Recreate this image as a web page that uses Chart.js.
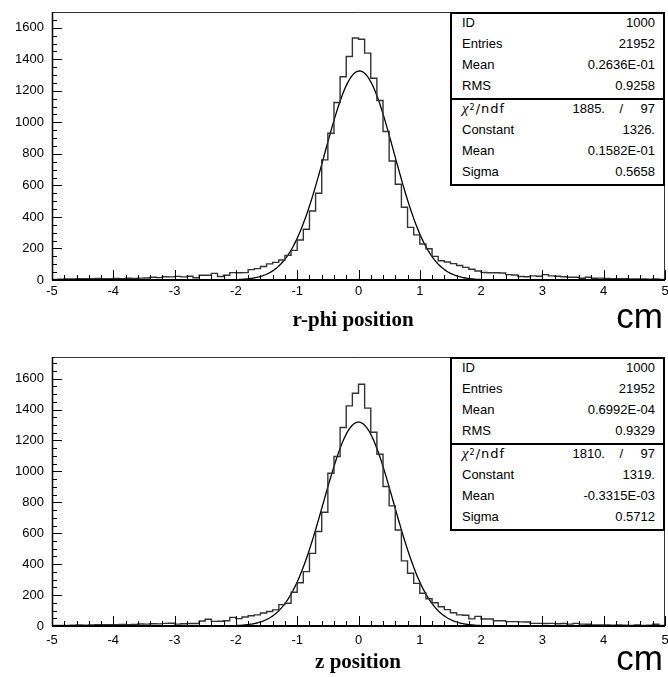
<!DOCTYPE html>
<html lang="en">

<head>
    <meta charset="UTF-8">
    <title>Position residuals</title>
    <style>
        body {
            margin: 0;
            width: 668px;
            height: 677px;
            position: relative;
            overflow: hidden;
            background: #fff;
            font-family: "Liberation Sans", Arial, Helvetica, sans-serif;
        }

        canvas {
            position: absolute;
            left: 0;
        }

        #chartRphi {
            top: 0;
        }

        #chartZ {
            top: 338px;
        }

        .stats {
            position: absolute;
            left: 450px;
            width: 215px;
            box-sizing: border-box;
            border: 2px solid #000;
            background: #fff;
            font-size: 13px;
            color: #000;
        }

        .stats .sec+.sec {
            border-top: 2px solid #000;
        }

        .row {
            position: relative;
            height: 21px;
            line-height: 21px;
        }

        .row span {
            position: absolute;
            top: -2px;
        }

        .row .lab {
            left: 10px;
        }

        .row .val {
            right: 8px;
        }

        .chi {
            font-family: "DejaVu Sans", sans-serif;
            letter-spacing: 1px;
        }

        .chi i {
            font-family: "Liberation Serif", serif;
            font-size: 15px;
        }

        .chi sup {
            font-size: 8px;
            position: relative;
            top: -1px;
            vertical-align: top;
        }

        .title {
            position: absolute;
            font-family: "Liberation Serif", "Times New Roman", serif;
            font-weight: bold;
            font-size: 21px;
            line-height: 21px;
            white-space: nowrap;
            transform: translateX(-50%);
        }

        .unit {
            position: absolute;
            right: 5px;
            font-size: 35px;
            line-height: 35px;
        }
    </style>
    <script src="https://cdn.jsdelivr.net/npm/chart.js"></script>
</head>

<body>
    <canvas id="chartRphi" width="668" height="338"></canvas>
    <canvas id="chartZ" width="668" height="339"></canvas>

    <div class="stats" style="top: 12px;">
        <div class="sec">
            <div class="row"><span class="lab">ID</span><span class="val">1000</span></div>
            <div class="row"><span class="lab">Entries</span><span class="val">21952</span></div>
            <div class="row"><span class="lab">Mean</span><span class="val">0.2636E-01</span></div>
            <div class="row"><span class="lab">RMS</span><span class="val">0.9258</span></div>
        </div>
        <div class="sec">
            <div class="row"><span class="lab chi"><i>χ</i><sup>2</sup>/ndf</span><span class="val" style="right: 58px;">1885.</span><span class="val" style="right: 40px;">/</span><span class="val">97</span></div>
            <div class="row"><span class="lab">Constant</span><span class="val">1326.</span></div>
            <div class="row"><span class="lab">Mean</span><span class="val">0.1582E-01</span></div>
            <div class="row"><span class="lab">Sigma</span><span class="val">0.5658</span></div>
        </div>
    </div>

    <div class="stats" style="top: 357px;">
        <div class="sec">
            <div class="row"><span class="lab">ID</span><span class="val">1000</span></div>
            <div class="row"><span class="lab">Entries</span><span class="val">21952</span></div>
            <div class="row"><span class="lab">Mean</span><span class="val">0.6992E-04</span></div>
            <div class="row"><span class="lab">RMS</span><span class="val">0.9329</span></div>
        </div>
        <div class="sec">
            <div class="row"><span class="lab chi"><i>χ</i><sup>2</sup>/ndf</span><span class="val" style="right: 58px;">1810.</span><span class="val" style="right: 40px;">/</span><span class="val">97</span></div>
            <div class="row"><span class="lab">Constant</span><span class="val">1319.</span></div>
            <div class="row"><span class="lab">Mean</span><span class="val">-0.3315E-03</span></div>
            <div class="row"><span class="lab">Sigma</span><span class="val">0.5712</span></div>
        </div>
    </div>

    <div class="title" style="left: 353px; top: 309px;">r-phi position</div>
    <div class="unit" style="top: 298px;">cm</div>
    <div class="title" style="left: 358px; top: 651px;">z position</div>
    <div class="unit" style="top: 640px;">cm</div>

    <script>
        // histogram binning: 100 bins from -5 to 5 cm
        const xMin = -5;
        const xMax = 5;
        const binWidth = 0.1;

        // bin contents, r-phi residuals
        const rphiCounts = [
            4, 5, 6, 6, 8, 9, 8, 10, 9, 8,
            10, 9, 11, 10, 12, 13, 17, 15, 21, 20,
            23, 20, 24, 14, 30, 30, 42, 22, 30, 47,
            46, 47, 66, 72, 86, 102, 112, 127, 156, 188,
            254, 322, 438, 550, 762, 931, 1126, 1289, 1418, 1535,
            1527, 1439, 1280, 1139, 942, 755, 607, 461, 334, 286,
            228, 198, 150, 122, 114, 104, 92, 80, 68, 57,
            48, 46, 46, 44, 34, 32, 22, 21, 26, 24,
            34, 26, 24, 21, 17, 17, 11, 17, 11, 12,
            10, 9, 8, 8, 7, 6, 7, 5, 6, 4
        ];

        // bin contents, z residuals
        const zCounts = [
            3, 4, 4, 5, 6, 5, 7, 9, 8, 9,
            8, 10, 9, 10, 13, 12, 15, 14, 17, 18,
            12, 15, 16, 16, 32, 44, 30, 31, 34, 56,
            48, 58, 66, 72, 84, 94, 104, 138, 147, 218,
            280, 352, 470, 611, 736, 988, 1096, 1284, 1424, 1506,
            1564, 1409, 1253, 1111, 902, 777, 621, 421, 341, 276,
            212, 176, 150, 125, 106, 86, 72, 70, 46, 62,
            45, 45, 34, 34, 28, 28, 27, 26, 17, 17,
            16, 17, 15, 16, 12, 17, 12, 11, 6, 6,
            6, 5, 6, 5, 4, 6, 4, 5, 11, 3
        ];

        // gaussian fit results (Constant, Mean, Sigma)
        const rphiFit = [1326, 0.1582E-01, 0.5658];
        const zFit = [1319, -0.3315E-03, 0.5712];

        // y axis tops and tick labels
        const rphiYMax = 1700;
        const zYMax = 1740;
        const xTickLabels = [-5, -4, -3, -2, -1, 0, 1, 2, 3, 4, 5];
        const yTickLabels = [0, 200, 400, 600, 800, 1000, 1200, 1400, 1600];

        const tickFont = { family: '"Liberation Sans", Arial, Helvetica, sans-serif', size: 13 };

        // outline of the histogram as a step line
        function histPoints(counts) {
            const pts = [{ x: xMin, y: 0 }];
            counts.forEach((c, i) => pts.push({ x: xMin + i * binWidth, y: c }));
            pts.push({ x: xMax, y: counts[counts.length - 1] });
            pts.push({ x: xMax, y: 0 });
            return pts;
        }

        // gaussian curve from the fitted parameters
        function fitPoints(fit) {
            const [c, m, s] = fit;
            const pts = [];
            for (let i = 0; i <= 500; i++) {
                const x = xMin + i * 0.02;
                pts.push({ x: x, y: c * Math.exp(-0.5 * ((x - m) / s) ** 2) });
            }
            return pts;
        }

        // frame plus inward PAW style tick marks
        const frameTicks = {
            id: 'frameTicks',
            afterDatasetsDraw(chart) {
                const { ctx, chartArea: a, scales: { x, y } } = chart;
                ctx.save();
                ctx.strokeStyle = '#000';
                ctx.lineWidth = 1;
                ctx.beginPath();
                for (let i = 0; i <= 50; i++) {
                    const px = Math.round(x.getPixelForValue(xMin + i * 0.2)) + 0.5;
                    const len = i % 5 === 0 ? 10 : 5;
                    ctx.moveTo(px, a.bottom);
                    ctx.lineTo(px, a.bottom - len);
                }
                for (let v = 0; v <= y.max; v += 50) {
                    const py = Math.round(y.getPixelForValue(v)) + 0.5;
                    const len = v % 200 === 0 ? 10 : 5;
                    ctx.moveTo(a.left, py);
                    ctx.lineTo(a.left + len, py);
                }
                ctx.stroke();

                // top and right edges
                ctx.strokeStyle = '#333';
                ctx.beginPath();
                ctx.moveTo(a.left, a.top + 0.5);
                ctx.lineTo(a.right, a.top + 0.5);
                ctx.moveTo(a.right - 0.5, a.top);
                ctx.lineTo(a.right - 0.5, a.bottom);
                ctx.stroke();

                // axes
                ctx.strokeStyle = '#000';
                ctx.lineWidth = 1.5;
                ctx.beginPath();
                ctx.moveTo(a.left + 0.5, a.top);
                ctx.lineTo(a.left + 0.5, a.bottom);
                ctx.stroke();
                ctx.lineWidth = 2;
                ctx.beginPath();
                ctx.moveTo(a.left, a.bottom);
                ctx.lineTo(a.right, a.bottom);
                ctx.stroke();
                ctx.restore();
            }
        };

        function makeChart(id, counts, fit, yMax, pad, xLabelPad) {
            const ctx = document.getElementById(id).getContext('2d');
            return new Chart(ctx, {
                type: 'scatter',
                data: {
                    datasets: [{
                        data: histPoints(counts),
                        showLine: true,
                        stepped: 'before',
                        borderColor: '#333',
                        borderWidth: 1.4,
                        pointRadius: 0
                    }, {
                        data: fitPoints(fit),
                        showLine: true,
                        borderColor: '#000',
                        borderWidth: 1.3,
                        pointRadius: 0,
                        tension: 0
                    }]
                },
                options: {
                    responsive: false,
                    animation: false,
                    devicePixelRatio: 1,
                    layout: { autoPadding: false, padding: pad },
                    plugins: {
                        legend: { display: false },
                        tooltip: { enabled: false }
                    },
                    scales: {
                        x: {
                            type: 'linear',
                            min: xMin,
                            max: xMax,
                            afterFit: (s) => {
                                s.height = 30;
                                s.paddingLeft = 0;
                                s.paddingRight = 0;
                            },
                            afterBuildTicks: (s) => { s.ticks = xTickLabels.map(v => ({ value: v })); },
                            grid: { display: false, drawTicks: false },
                            border: { display: false },
                            ticks: {
                                color: '#000',
                                font: tickFont,
                                padding: xLabelPad,
                                maxRotation: 0,
                                autoSkip: false,
                                callback: (v) => String(v)
                            }
                        },
                        y: {
                            type: 'linear',
                            min: 0,
                            max: yMax,
                            afterFit: (s) => {
                                s.width = 52;
                                s.paddingTop = 0;
                                s.paddingBottom = 0;
                            },
                            afterBuildTicks: (s) => { s.ticks = yTickLabels.map(v => ({ value: v })); },
                            grid: { display: false, drawTicks: false },
                            border: { display: false },
                            ticks: {
                                color: '#000',
                                font: tickFont,
                                padding: 8,
                                callback: (v) => String(v)
                            }
                        }
                    }
                },
                plugins: [frameTicks]
            });
        }

        makeChart('chartRphi', rphiCounts, rphiFit, rphiYMax, { top: 12, left: 0, right: 3, bottom: 28 }, 4);
        makeChart('chartZ', zCounts, zFit, zYMax, { top: 19, left: 0, right: 3, bottom: 21 }, 7);
    </script>
</body>

</html>
